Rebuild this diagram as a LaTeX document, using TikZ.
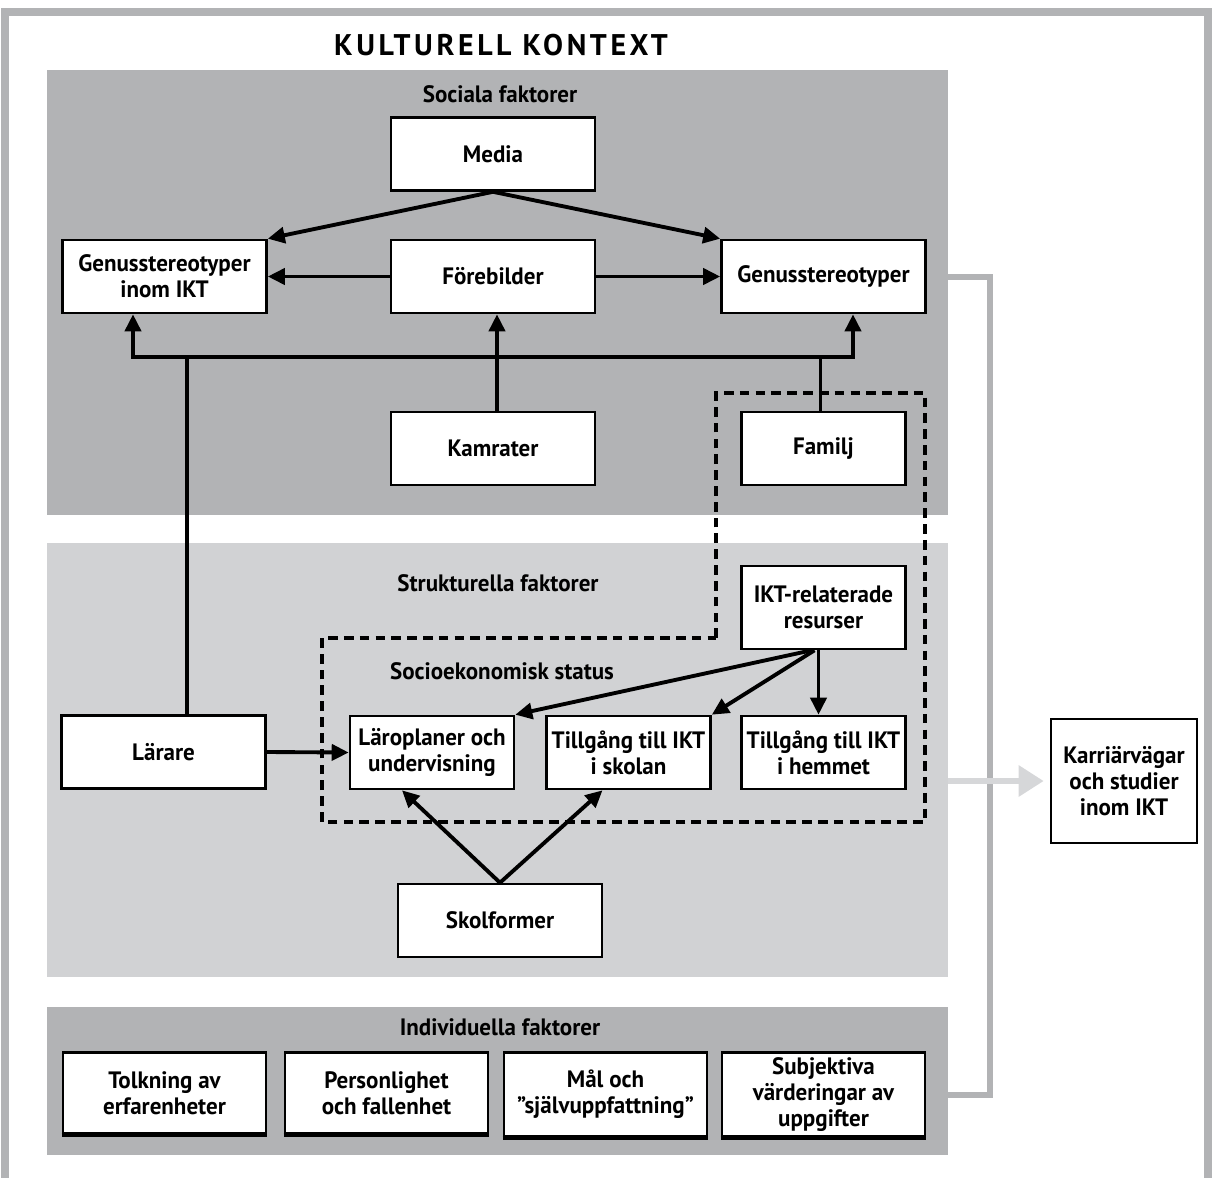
\documentclass[tikz,border=0pt]{standalone}
\usepackage{fontspec}
\setmainfont[FakeStretch=0.97]{PT Sans}
\newfontfamily\titlefont[LetterSpace=12]{PT Sans}
\usetikzlibrary{arrows.meta,calc}
\definecolor{darkpanel}{HTML}{B2B3B5}
\definecolor{lightpanel}{HTML}{D1D2D4}
\definecolor{framegray}{HTML}{B2B3B5}
\definecolor{arrowgray}{HTML}{D6D7D9}
\begin{document}
\begin{tikzpicture}[x=0.02cm,y=-0.02cm,
 box/.style={draw=black,fill=white,line width=1.5pt,align=center,font=\fontsize{13.5}{14.7}\selectfont\bfseries,inner sep=2pt},
 wbox/.style={box,minimum width=4.08cm,minimum height=1.46cm},
 nbox/.style={box,minimum width=3.28cm,minimum height=1.46cm},
 ibox/.style={box,minimum width=4.06cm,minimum height=1.62cm},
 panel/.style={inner sep=0pt,outer sep=0pt},
 ptitle/.style={font=\fontsize{13.5}{14.7}\selectfont\bfseries},
 conn/.style={line width=2.2pt,black},
 tip/.style={-{Triangle[length=0.34cm,width=0.32cm]}},
 grayline/.style={line width=0.12cm,framegray},
 dashedline/.style={line width=2.2pt,dash pattern=on 5.5pt off 3.5pt},
 shadowedge/.style={line width=2.6pt,black},
]
\useasboundingbox (0,0) rectangle (1214,1177);
\clip (0,0) rectangle (1214,1177);
% outer frame
\draw[line width=0.16cm,framegray] (5,12) rectangle (1208,1190);
% panels
\node[panel,fill=darkpanel,minimum width=18.02cm,minimum height=8.9cm] (socpanel) at (497.5,292.5) {};
\node[panel,fill=lightpanel,minimum width=18.02cm,minimum height=8.68cm] (strpanel) at (497.5,760) {};
\node[panel,fill=darkpanel,minimum width=18.02cm,minimum height=2.96cm] (indpanel) at (497.5,1081) {};
% titles
\node[font=\fontsize{17}{20}\selectfont\titlefont\bfseries] (title) at (501,45) {KULTURELL KONTEXT};
\node[ptitle] (soctitle) at (500,94) {Sociala faktorer};
\node[ptitle] (strtitle) at (498,583) {Strukturella faktorer};
\node[ptitle] (sestitle) at (502,671) {Socioekonomisk status};
\node[ptitle] (indtitle) at (500,1027) {Individuella faktorer};
% dashed region
\draw[dashedline] (716,638) -- (716,393) -- (925,393) -- (925,822) -- (322,822) -- (322,638) -- cycle;
% social nodes
\node[wbox] (media) at (493,154) {Media};
\node[wbox] (genIKT) at (164.5,276.5) {Genusstereotyper\\inom IKT};
\node[wbox] (forebilder) at (493,276.5) {Förebilder};
\node[wbox] (genR) at (823.5,276.5) {Genusstereotyper};
\node[wbox] (kamrater) at (493,448.5) {Kamrater};
\node[nbox] (familj) at (823.5,448.5) {Familj};
% structural nodes
\node[nbox,minimum height=1.66cm] (iktres) at (823.5,607.5) {IKT-relaterade\\resurser};
\node[nbox] (laro) at (432,752.5) {Läroplaner och\\undervisning};
\node[nbox] (skolan) at (628.5,752.5) {Tillgång till IKT\\i skolan};
\node[nbox] (hemmet) at (823.5,752.5) {Tillgång till IKT\\i hemmet};
\node[wbox] (larare) at (163.5,752) {Lärare};
\node[wbox] (skolformer) at (500,920.5) {Skolformer};
\node[box,minimum width=2.92cm,minimum height=2.48cm] (karriar) at (1124,781) {Karriärvägar\\och studier\\inom IKT};
% individual nodes
\node[ibox] (tolkning) at (164.5,1093) {Tolkning av\\erfarenheter};
\node[ibox] (person) at (386.5,1093) {Personlighet\\och fallenhet};
\node[ibox,minimum height=1.68cm] (mal) at (605.5,1094.5) {Mål och\\”självuppfattning”};
\node[ibox,minimum height=1.68cm] (subj) at (823.5,1094.5) {Subjektiva\\värderingar av\\uppgifter};
\foreach \n in {tolkning,person,mal,subj}{
  \draw[shadowedge] (\n.south west) -- (\n.south east);
}
% social connectors
\draw[conn,tip] (media.south) -- (genIKT.north east);
\draw[conn,tip] (media.south) -- (genR.north west);
\draw[conn,tip] (forebilder.west) -- (genIKT.east);
\draw[conn,tip] (forebilder.east) -- (genR.west);
\coordinate (lj) at (187,357);
\coordinate (fj) at (820.5,357);
\coordinate (fb) at (820.5,0);
\draw[conn] ($(larare.north)+(23.5,0)$) -- (lj);
\draw[conn,tip] (lj) -| ($(genIKT.south)+(-31.5,0)$);
\draw[conn,tip] (lj) -| ($(genR.south)+(29.5,0)$);
\draw[conn] (familj.north -| fb) -- (fj);
\draw[conn,tip] ($(kamrater.north)+(4,0)$) -- ($(forebilder.south)+(4,0)$);
% structural connectors
\draw[conn,tip] ($(iktres.south)+(-12,0)$) -- (laro.north east);
\draw[conn,tip] ($(iktres.south)+(-9,0)$) -- (skolan.north east);
\draw[conn,tip] ($(iktres.south)+(-5,0)$) -- ($(hemmet.north)+(-5,0)$);
\draw[conn,tip] (larare.east) -- (laro.west);
\draw[conn,tip] (skolformer.north) -- ($(laro.south)+(-30,0)$);
\draw[conn,tip] (skolformer.north) -- ($(skolan.south)+(-26,0)$);
% gray connectors
\coordinate (gx) at (990,0);
\draw[grayline] (socpanel.east |- genR.east) -| (gx |- subj.east) -- (indpanel.east |- subj.east);
\draw[line width=0.12cm,arrowgray,-{Triangle[length=0.5cm,width=0.6cm]},shorten >=0.12cm] (strpanel.east |- karriar.west) -- (karriar.west);
\end{tikzpicture}
\end{document}
